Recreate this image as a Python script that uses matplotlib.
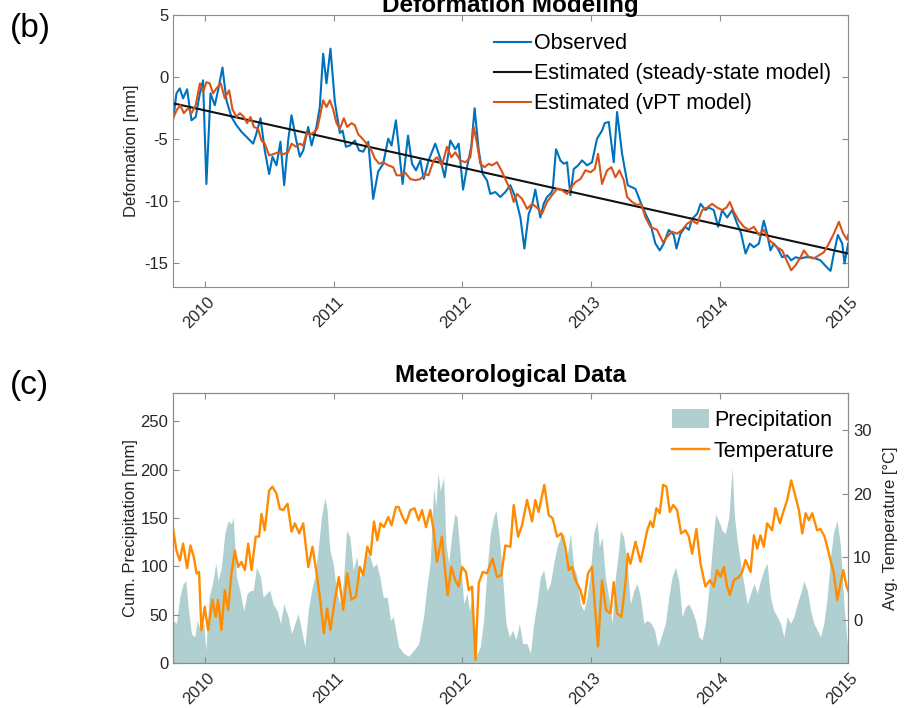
import matplotlib
matplotlib.use('Agg')
import matplotlib.pyplot as plt
import matplotlib.transforms as mtransforms
from matplotlib.patches import Patch
from matplotlib.lines import Line2D

plt.rcParams['font.family'] = ['Liberation Sans', 'DejaVu Sans']
plt.rcParams['axes.unicode_minus'] = False

# ---- deformation (decimal years, mm) ----
obs_t = [2009.750, 2009.776, 2009.802, 2009.828, 2009.859, 2009.893, 2009.926, 2009.958, 2009.983, 2010.009,
         2010.041, 2010.074, 2010.100, 2010.134, 2010.165, 2010.204, 2010.243, 2010.282, 2010.334, 2010.373,
         2010.399, 2010.430, 2010.463, 2010.497, 2010.523, 2010.554, 2010.585, 2010.614, 2010.645, 2010.671,
         2010.705, 2010.736, 2010.762, 2010.801, 2010.827, 2010.865, 2010.891, 2010.917, 2010.943, 2010.974,
         2011.008, 2011.047, 2011.068, 2011.094, 2011.125, 2011.164, 2011.197, 2011.229, 2011.268, 2011.306,
         2011.345, 2011.384, 2011.423, 2011.449, 2011.483,
         2011.535, 2011.577, 2011.608, 2011.639, 2011.673, 2011.699, 2011.737, 2011.789, 2011.828, 2011.862,
         2011.906, 2011.945, 2011.971, 2012.005, 2012.036, 2012.069, 2012.095, 2012.127, 2012.158, 2012.191,
         2012.217, 2012.256, 2012.295, 2012.334, 2012.373, 2012.412, 2012.451, 2012.482, 2012.516, 2012.542,
         2012.567, 2012.606, 2012.632, 2012.658, 2012.684, 2012.702, 2012.728, 2012.762, 2012.788, 2012.814,
         2012.840, 2012.866, 2012.900, 2012.931, 2012.970, 2013.008, 2013.047, 2013.086, 2013.107, 2013.138,
         2013.177, 2013.203, 2013.242,
         2013.286, 2013.346, 2013.385, 2013.424, 2013.462, 2013.501, 2013.535, 2013.566, 2013.605, 2013.644,
         2013.665, 2013.696, 2013.735, 2013.761, 2013.787, 2013.826, 2013.852, 2013.890, 2013.916, 2013.955,
         2013.989, 2014.020, 2014.059, 2014.098, 2014.137, 2014.168, 2014.202, 2014.235, 2014.267, 2014.306,
         2014.344, 2014.370, 2014.396, 2014.422, 2014.453, 2014.487, 2014.526, 2014.557, 2014.591, 2014.630,
         2014.669, 2014.708, 2014.746, 2014.785, 2014.824, 2014.863, 2014.889, 2014.920, 2014.954, 2014.972,
         2015.000]
obs_mm = [-3.47, -1.3, -0.9, -1.7, -0.97, -3.47, -3.2, -1.3, -0.25, -8.6,
          -1.3, -2.26, -1.05, 0.78, -1.86, -3.2, -3.87, -4.4, -4.95, -5.35,
          -4.5, -3.3, -5.9, -7.8, -6.4, -7.1, -5.2, -8.7, -5.1, -3.06,
          -4.95, -6.4, -5.9, -4.0, -5.5, -4.0, -2.4, 1.9, -0.5, 2.3,
          -1.99, -4.5, -4.3, -5.6, -5.5, -5.1, -5.9, -6.0, -5.2, -9.8,
          -7.6, -6.97, -4.95, -5.5, -3.47,
          -8.6, -4.7, -6.97, -7.5, -6.7, -8.2, -6.7, -5.35, -6.55, -8.06,
          -5.1, -5.8, -5.35, -9.05, -7.25, -5.6, -2.5, -5.9, -7.8, -8.3,
          -9.4, -9.25, -9.65, -9.25, -8.7, -9.65, -11.3, -13.8, -11.0, -10.3,
          -9.05, -11.3, -10.2, -9.65, -9.4, -9.1, -5.8, -6.7, -6.97, -6.85,
          -9.5, -7.4, -7.1, -6.7, -7.1, -6.85, -4.95, -4.3, -3.7, -3.6,
          -6.85, -2.8, -6.17,
          -8.7, -9.0, -10.05, -11.0, -11.8, -13.4, -13.95, -13.4, -12.3, -12.7,
          -13.8, -12.6, -12.05, -12.3, -11.4, -11.0, -10.2, -10.7, -10.5, -10.7,
          -12.05, -10.7, -11.3, -10.7, -11.8, -12.6, -14.2, -13.4, -13.7, -13.4,
          -11.55, -12.6, -13.95, -13.4, -13.8, -14.5, -14.35, -14.75, -14.5, -14.6,
          -14.5, -14.5, -14.6, -14.75, -15.2, -15.6, -14.2, -12.7, -13.4, -15.0,
          -13.4]

vpt_t = [2009.750, 2009.781, 2009.807, 2009.833, 2009.867, 2009.893, 2009.926, 2009.958, 2009.983, 2010.009,
         2010.035, 2010.061, 2010.087, 2010.121, 2010.152, 2010.186, 2010.212, 2010.243, 2010.269, 2010.300,
         2010.326, 2010.352, 2010.378, 2010.411, 2010.437, 2010.463, 2010.497, 2010.528, 2010.567, 2010.606,
         2010.645, 2010.671, 2010.705, 2010.736, 2010.762, 2010.788, 2010.814, 2010.839, 2010.871, 2010.891,
         2010.917, 2010.943, 2010.969, 2010.995, 2011.021, 2011.047, 2011.078, 2011.104, 2011.138, 2011.164,
         2011.190, 2011.223, 2011.255, 2011.293, 2011.319, 2011.353, 2011.384, 2011.423, 2011.462, 2011.488,
         2011.517, 2011.556, 2011.595, 2011.634, 2011.673, 2011.711, 2011.737, 2011.776, 2011.802, 2011.841,
         2011.880, 2011.914, 2011.945, 2011.984, 2012.023, 2012.062, 2012.088, 2012.114, 2012.139, 2012.173,
         2012.204, 2012.230, 2012.269, 2012.303, 2012.334, 2012.373, 2012.399, 2012.425, 2012.464, 2012.503,
         2012.542, 2012.580, 2012.619, 2012.658, 2012.697, 2012.736, 2012.775, 2012.814, 2012.848, 2012.879,
         2012.918, 2012.957, 2012.996, 2013.029, 2013.055, 2013.086, 2013.125, 2013.159, 2013.190, 2013.221,
         2013.255, 2013.281, 2013.320, 2013.359, 2013.390, 2013.424, 2013.462, 2013.514, 2013.561, 2013.592,
         2013.631, 2013.670, 2013.709, 2013.748, 2013.787, 2013.826, 2013.865, 2013.903, 2013.942, 2013.981,
         2014.020, 2014.054, 2014.080, 2014.111, 2014.150, 2014.189, 2014.228, 2014.267, 2014.306, 2014.344,
         2014.383, 2014.417, 2014.448, 2014.487, 2014.521, 2014.557, 2014.591, 2014.630, 2014.656, 2014.695,
         2014.733, 2014.772, 2014.811, 2014.850, 2014.889, 2014.928, 2014.962, 2014.993, 2015.000]
vpt_mm = [-3.3, -2.6, -2.26, -2.9, -2.5, -2.9, -2.26, -0.5, -1.2, -0.4,
          -0.5, -1.3, -0.9, -0.5, -1.7, -1.05, -2.6, -3.2, -2.9, -3.2,
          -3.7, -3.2, -4.0, -4.15, -5.1, -5.35, -6.3, -6.2, -6.05, -6.2,
          -6.05, -5.35, -5.6, -5.35, -5.5, -4.5, -4.6, -4.5, -4.15, -3.2,
          -1.86, -2.4, -1.86, -2.6, -3.7, -4.15, -3.3, -4.0, -3.7, -3.87,
          -4.6, -4.95, -5.35, -5.9, -6.55, -6.97, -6.85, -7.1, -7.25, -7.9,
          -7.9, -7.7, -8.2, -8.3, -8.2, -7.8, -7.9, -6.7, -6.45, -7.1,
          -5.6, -6.45, -6.05, -6.7, -6.85, -6.45, -4.0, -5.35, -6.97, -7.25,
          -6.97, -7.1, -6.85, -7.5, -8.2, -9.1, -10.05, -9.4, -9.8, -10.6,
          -10.2, -10.5, -11.0, -10.05, -9.5, -9.0, -9.1, -9.4, -8.85, -8.45,
          -8.2, -7.5, -7.65, -7.4, -6.17, -8.6, -7.5, -7.25, -8.06, -7.5,
          -8.3, -9.65, -10.05, -10.3, -10.2, -11.3, -12.05, -12.3, -13.3, -12.85,
          -12.45, -12.6, -12.3, -11.8, -11.55, -11.8, -10.7, -10.5, -10.2, -10.5,
          -10.7, -10.5, -10.05, -10.85, -11.55, -12.05, -12.3, -12.05, -12.7, -12.3,
          -13.1, -13.4, -13.7, -13.95, -14.75, -15.55, -15.15, -14.5, -13.95, -14.5,
          -14.6, -14.35, -14.1, -13.4, -12.6, -11.65, -12.6, -13.1, -12.7]

ss_t = [2009.75, 2015.0]
ss_mm = [-2.1, -14.2]

# ---- meteorology ----
temp_t = [2009.750, 2009.776, 2009.802, 2009.828, 2009.859, 2009.885, 2009.911, 2009.932, 2009.952, 2009.970,
          2009.996, 2010.022, 2010.056, 2010.082, 2010.100, 2010.126, 2010.152, 2010.178, 2010.204, 2010.230,
          2010.256, 2010.282, 2010.308, 2010.334, 2010.360, 2010.393, 2010.419, 2010.437, 2010.463, 2010.497,
          2010.523, 2010.554, 2010.580, 2010.606, 2010.640, 2010.671, 2010.697, 2010.731, 2010.762, 2010.801,
          2010.834, 2010.865, 2010.891, 2010.922, 2010.948, 2010.974, 2011.008, 2011.039, 2011.073, 2011.104,
          2011.138, 2011.172, 2011.203, 2011.229, 2011.260, 2011.286, 2011.312, 2011.338, 2011.363, 2011.389,
          2011.423, 2011.449, 2011.483,
          2011.504, 2011.535, 2011.561, 2011.595, 2011.628, 2011.660, 2011.686, 2011.717, 2011.750, 2011.776,
          2011.802, 2011.841, 2011.862, 2011.885, 2011.914, 2011.945, 2011.971, 2011.997, 2012.028, 2012.049,
          2012.075, 2012.101, 2012.127, 2012.158, 2012.191, 2012.235, 2012.269, 2012.303, 2012.334, 2012.373,
          2012.399, 2012.433, 2012.464, 2012.503, 2012.542, 2012.567, 2012.593, 2012.637, 2012.671, 2012.702,
          2012.736, 2012.770, 2012.801, 2012.827, 2012.853, 2012.879, 2012.918, 2012.944, 2012.977, 2013.008,
          2013.029, 2013.055, 2013.086, 2013.117, 2013.151, 2013.177, 2013.203, 2013.237,
          2013.268, 2013.286, 2013.307, 2013.346, 2013.385, 2013.411, 2013.437, 2013.462, 2013.483, 2013.509,
          2013.535, 2013.561, 2013.587, 2013.613, 2013.639, 2013.670, 2013.701, 2013.735, 2013.761, 2013.787,
          2013.820, 2013.852, 2013.890, 2013.924, 2013.955, 2013.981, 2014.007, 2014.033, 2014.059, 2014.080,
          2014.111, 2014.150, 2014.176, 2014.202, 2014.241, 2014.267, 2014.293, 2014.318, 2014.344, 2014.370,
          2014.409, 2014.435, 2014.469, 2014.500, 2014.526, 2014.557, 2014.591, 2014.617, 2014.643, 2014.669,
          2014.695, 2014.721, 2014.759, 2014.785, 2014.817, 2014.850, 2014.889, 2014.915, 2014.941, 2014.962,
          2014.988, 2015.019]
temp_c = [14.5, 11.0, 9.4, 12.1, 8.2, 11.8, 10.0, 7.4, 7.6, -1.6,
          2.1, -1.6, 3.2, 0.5, 3.2, -1.6, 4.75, 1.6, 7.4, 11.0,
          8.4, 9.2, 7.9, 12.1, 7.9, 13.2, 13.2, 16.8, 14.2, 20.5,
          21.1, 20.0, 17.6, 17.4, 18.4, 14.0, 15.3, 13.7, 15.3, 8.4,
          11.6, 7.6, 3.7, -2.1, 1.8, -1.6, 3.2, 6.8, 1.6, 7.4,
          3.2, 3.7, 8.4, 7.1, 11.6, 10.3, 15.6, 12.6, 15.3, 14.7,
          16.3, 15.0, 17.9,
          17.9, 16.3, 15.3, 17.4, 17.7, 15.8, 17.4, 14.7, 17.4, 14.2,
          9.2, 13.2, 8.4, 3.95, 8.4, 6.3, 5.3, 8.4, 7.6, 4.75,
          5.3, -6.3, 5.8, 7.6, 7.4, 9.7, 6.8, 7.1, 11.8, 11.6,
          18.2, 13.2, 15.0, 19.0, 15.6, 19.0, 17.1, 21.4, 16.6, 16.1,
          13.2, 13.7, 11.6, 7.9, 8.4, 6.3, 4.75, 2.6, 7.4, 8.4,
          2.6, -4.2, 6.3, 1.6, 1.05, 6.0, 1.05, 0.5,
          5.8, 10.5, 8.9, 12.4, 9.2, 11.6, 14.2, 15.6, 14.7, 17.7,
          16.9, 21.4, 21.1, 17.1, 18.2, 17.4, 13.7, 14.2, 13.2, 10.5,
          14.4, 8.9, 5.3, 6.3, 5.3, 7.9, 6.8, 8.4, 5.3, 3.95,
          6.3, 6.8, 7.6, 9.5, 7.6, 13.4, 11.3, 13.4, 11.6, 15.3,
          14.2, 17.7, 15.3, 17.4, 19.0, 22.1, 19.5, 17.4, 13.7, 16.9,
          15.8, 16.9, 14.2, 14.4, 13.2, 10.5, 7.4, 3.2, 5.8, 7.9,
          5.3, 3.7]

prec_t = [2009.750, 2009.776, 2009.802, 2009.828, 2009.849, 2009.867, 2009.893, 2009.919, 2009.937, 2009.963,
          2009.989, 2010.004, 2010.030, 2010.056, 2010.082, 2010.100, 2010.126, 2010.152, 2010.178, 2010.204,
          2010.217, 2010.243, 2010.269, 2010.300, 2010.326, 2010.352, 2010.373, 2010.399, 2010.430, 2010.450,
          2010.476, 2010.502, 2010.528, 2010.559, 2010.585, 2010.611, 2010.645, 2010.671, 2010.697, 2010.723,
          2010.749, 2010.775, 2010.801, 2010.827, 2010.852, 2010.878, 2010.904, 2010.930, 2010.948, 2010.969,
          2010.995, 2011.021, 2011.047, 2011.073, 2011.099, 2011.125, 2011.151, 2011.177, 2011.203, 2011.234,
          2011.260, 2011.280, 2011.306, 2011.332, 2011.358, 2011.384, 2011.415, 2011.441, 2011.462,
          2011.504, 2011.543, 2011.582, 2011.621, 2011.660, 2011.698, 2011.724, 2011.750, 2011.776, 2011.794,
          2011.810, 2011.828, 2011.854, 2011.872, 2011.893, 2011.919, 2011.940, 2011.958, 2011.984, 2012.010,
          2012.036, 2012.054, 2012.080, 2012.106, 2012.139, 2012.165, 2012.191, 2012.217, 2012.243, 2012.261,
          2012.287, 2012.313, 2012.339, 2012.365, 2012.391, 2012.417, 2012.443, 2012.469, 2012.503, 2012.529,
          2012.555, 2012.580, 2012.606, 2012.632, 2012.658, 2012.684, 2012.710, 2012.736, 2012.762, 2012.788,
          2012.814, 2012.840, 2012.866, 2012.892, 2012.918, 2012.944, 2012.970, 2012.996, 2013.021, 2013.047,
          2013.065, 2013.086, 2013.112, 2013.138, 2013.164, 2013.190, 2013.216,
          2013.229, 2013.255, 2013.281, 2013.307, 2013.333, 2013.359, 2013.385, 2013.411, 2013.437,
          2013.468, 2013.494, 2013.520, 2013.545, 2013.579, 2013.605, 2013.631, 2013.657, 2013.683, 2013.709,
          2013.735, 2013.761, 2013.787, 2013.813, 2013.839, 2013.865, 2013.890, 2013.916, 2013.942, 2013.968,
          2013.994, 2014.020, 2014.046, 2014.072, 2014.098, 2014.116, 2014.137, 2014.163, 2014.189, 2014.215,
          2014.241, 2014.267, 2014.293, 2014.318, 2014.344, 2014.370, 2014.396, 2014.422, 2014.448, 2014.474,
          2014.500, 2014.526, 2014.552, 2014.578, 2014.604, 2014.630, 2014.656, 2014.682, 2014.708, 2014.733,
          2014.759, 2014.785, 2014.811, 2014.837, 2014.863, 2014.889, 2014.915, 2014.941, 2014.967, 2014.993,
          2015.019]
prec_mm = [44, 41, 68, 82, 85, 58, 30, 27, 44, 34,
           41, 13, 68, 82, 103, 85, 99, 134, 147, 144,
           151, 89, 75, 54, 72, 75, 75, 99, 89, 68,
           72, 75, 61, 54, 41, 61, 48, 30, 41, 51,
           34, 17, 54, 75, 89, 117, 151, 171, 158, 117,
           103, 75, 61, 82, 137, 130, 96, 110, 89, 96,
           113, 110, 99, 103, 89, 68, 68, 44, 48,
           17, 10, 7, 13, 20, 48, 79, 104, 182, 161,
           197, 178, 192, 123, 103, 134, 154, 151, 110, 61,
           72, 54, 72, 7, 17, 44, 96, 134, 151, 158,
           130, 89, 41, 27, 34, 24, 41, 20, 20, 10,
           41, 61, 89, 96, 75, 82, 103, 120, 130, 134,
           110, 134, 99, 89, 61, 54, 68, 96, 134, 147,
           120, 130, 89, 68, 41, 89, 117,
           137, 130, 103, 61, 75, 82, 68, 41, 44,
           41, 34, 17, 27, 41, 68, 89, 99, 85, 48,
           58, 61, 54, 44, 27, 24, 41, 75, 117, 154,
           147, 137, 134, 151, 202, 151, 127, 103, 82, 61,
           72, 82, 72, 85, 96, 103, 68, 54, 48, 41,
           27, 48, 41, 48, 61, 72, 85, 75, 54, 41,
           34, 27, 41, 68, 110, 137, 147, 120, 61, 20,
           34]

years = [2010, 2011, 2012, 2013, 2014, 2015]

axis_grey = '#8c8c8c'
text_col = '#262626'


def style(ax):
    for s in ax.spines.values():
        s.set_color(axis_grey)
        s.set_linewidth(0.8)
    ax.tick_params(direction='in', length=4, width=0.8, color=axis_grey,
                   labelcolor=text_col, labelsize=12)


def year_ticks(ax, fig):
    ax.set_xlim(2009.75, 2015.0)
    ax.set_xticks(years)
    ax.set_xticklabels([str(y) for y in years], rotation=45, ha='right',
                       va='center', rotation_mode='anchor')
    off = mtransforms.ScaledTranslation(7 / 100, -8 / 100, fig.dpi_scale_trans)
    for lab in ax.get_xticklabels():
        lab.set_transform(lab.get_transform() + off)


fig = plt.figure(figsize=(9.11, 7.08), dpi=100)

# ---------------- (b) deformation ----------------
ax1 = fig.add_axes([0.190, 0.5946, 0.741, 0.384])
ax1.plot(obs_t, obs_mm, color='#0072BD', lw=1.5, label='Observed')
ax1.plot(ss_t, ss_mm, color='#111111', lw=1.5, label='Estimated (steady-state model)')
ax1.plot(vpt_t, vpt_mm, color='#D95319', lw=1.5, label='Estimated (vPT model)')
ax1.set_ylim(-16.9, 5)
ax1.set_yticks([-15, -10, -5, 0, 5])
style(ax1)
ax1.tick_params(top=True, right=True)
year_ticks(ax1, fig)
ax1.set_ylabel('Deformation [mm]', fontsize=12, color=text_col, labelpad=4)
ax1.set_title('Deformation Modeling', fontsize=17.5, fontweight='bold', pad=2)
ax1.legend(loc='upper left', bbox_to_anchor=(0.4756, 0.934), frameon=False,
           fontsize=15.5, handlelength=1.7, handletextpad=0.15, labelspacing=0.42,
           borderpad=0, borderaxespad=0)

# ---------------- (c) meteorology ----------------
ax2 = fig.add_axes([0.190, 0.0636, 0.741, 0.381])
ax2.fill_between(prec_t, 0, prec_mm, color='#B0CFD0', lw=0)
ax2.set_ylim(0, 279)
ax2.set_yticks([0, 50, 100, 150, 200, 250])
style(ax2)
ax2.tick_params(top=True, right=False)
year_ticks(ax2, fig)
ax2.set_ylabel('Cum. Precipitation [mm]', fontsize=12, color=text_col, labelpad=2)
ax2.set_title('Meteorological Data', fontsize=17.5, fontweight='bold', pad=8)

ax2r = ax2.twinx()
ax2r.plot(temp_t, temp_c, color='#FF8C00', lw=1.7)
ax2r.set_ylim(-6.8, 35.9)
ax2r.set_yticks([0, 10, 20, 30])
style(ax2r)
ax2r.set_xlim(2009.75, 2015.0)
ax2r.set_ylabel('Avg. Temperature [°C]', fontsize=12, color=text_col, labelpad=8)

handles = [Patch(facecolor='#B0CFD0', edgecolor='none'),
           Line2D([], [], color='#FF8C00', lw=1.7)]
ax2r.legend(handles, ['Precipitation', 'Temperature'], loc='upper left',
            bbox_to_anchor=(0.739, 0.941), frameon=False, fontsize=15.5,
            handlelength=1.7, handleheight=1.0, handletextpad=0.25,
            labelspacing=0.42, borderpad=0, borderaxespad=0)

fig.text(0.011, 0.960, '(b)', fontsize=24, va='center', ha='left')
fig.text(0.011, 0.455, '(c)', fontsize=24, va='center', ha='left')

fig.savefig('out.png', dpi=100)
